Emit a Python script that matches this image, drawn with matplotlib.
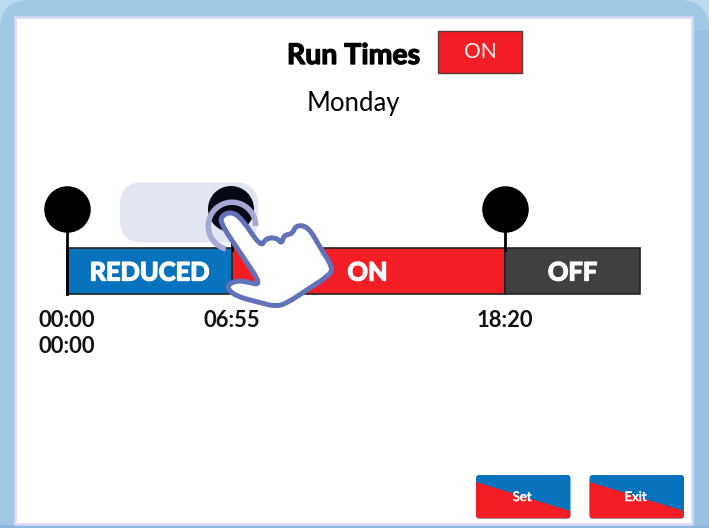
import matplotlib
matplotlib.use("Agg")
import matplotlib.pyplot as plt
import matplotlib.patheffects as pe
from matplotlib.path import Path
from matplotlib.patches import FancyBboxPatch, Rectangle, Circle, Polygon, Wedge, PathPatch

plt.rcParams['font.family'] = ['Lato', 'DejaVu Sans']

W, H = 709, 528
# data
segment_names = ["REDUCED", "ON", "OFF"]
segment_starts = [0, 415, 1100]       # minutes of the day
segment_ends = [415, 1100, 1440]
segment_colors = ["#0872BC", "#F21D25", "#404040"]
handle_minutes = [0, 415, 1100]
time_labels = ["00:00", "06:55", "18:20"]
title = "Run Times"
day = "Monday"
buttons = ["Set", "Exit"]

fig = plt.figure(figsize=(W/100, H/100), dpi=100)
fig.patch.set_facecolor("#BBDAEE")

def pixel_axes(z):
    a = fig.add_axes([0, 0, 1, 1], zorder=z)
    a.set_xlim(0, W); a.set_ylim(H, 0); a.axis("off")
    a.patch.set_alpha(0)
    return a

def heavy(w, c="white"):
    return [pe.withStroke(linewidth=w, foreground=c)]

bg = pixel_axes(0)
# outer frame
bg.add_patch(FancyBboxPatch((0, 0), W, H+60, boxstyle="round,pad=0,rounding_size=30",
                            fc="#9FC8E6", ec="none"))
bg.add_patch(Rectangle((692, 30), 17, H, fc="#98C3E4", ec="none"))
bg.add_patch(Rectangle((0, 525), W, 3, fc="#8DB8DD", ec="none"))
bg.add_patch(Rectangle((15, 17), 676.5, 507, fc="white", ec="#DAD8F4", lw=1.8))

# time axis: minutes to pixels
PX = 0.398
ax = fig.add_axes([0, 0, 1, 1], zorder=1)
ax.set_xlim(-67/PX, (W-67)/PX); ax.set_ylim(H, 0); ax.axis("off"); ax.patch.set_alpha(0)

for s, e, c, n in zip(segment_starts, segment_ends, segment_colors, segment_names):
    ax.barh(271, e-s, left=s, height=46, color=c, edgecolor="#222222", linewidth=1.2)
    tx = (s+e)/2
    if n == "ON":
        tx = 755
    if n == "REDUCED":
        tx = 207
    ax.text(tx, 273, n, color="white", fontsize=18.3, fontweight="bold", ha="center", va="center",
            path_effects=heavy(1.0))
ax.plot([segment_starts[0], segment_starts[0]], [248, 294], color="black", lw=2)

for m, l in zip(handle_minutes, time_labels):
    ax.plot([m, m], [210, 250], color="black", lw=2, zorder=3)
    ax.plot([m], [209], "o", color="black", ms=33.5, mew=0, zorder=3)
    ax.text(m, 320.5, l, color="#111111", fontsize=15.8, fontweight="bold", ha="center", va="center")
ax.text(0, 346.5, time_labels[0], color="#111111", fontsize=15.8, fontweight="bold", ha="center", va="center")

# overlay
top = pixel_axes(2)
top.text(353.5, 56, title, fontsize=20.5, fontweight="bold", color="black", ha="center", va="center",
         path_effects=heavy(0.9, "black"))
top.add_patch(Rectangle((438, 31), 84, 42, fc="#F21D25", ec="#5a3a3a", lw=1))
top.text(480, 52, "ON", fontsize=15, color="white", ha="center", va="center")
top.text(353.5, 104, day, fontsize=18.5, color="black", ha="center", va="center")

# buttons
for x0, lab in zip([476, 589.5], buttons):
    w, h = 94.5, 43.5
    box = FancyBboxPatch((x0, 475), w, h, boxstyle="round,pad=0,rounding_size=3", fc="#0872BC", ec="none")
    top.add_patch(box)
    tri = Polygon([(x0, 482), (x0+w, 511), (x0+w, 518.5), (x0, 518.5)], fc="#F21D25", ec="none")
    top.add_patch(tri)
    tri.set_clip_path(box)
    top.text(x0+w/2-1, 497, lab, fontsize=9.5, color="white", ha="center", va="center",
             path_effects=heavy(0.4))

# gesture: pill, hand
top.add_patch(FancyBboxPatch((120, 182.5), 138, 60, boxstyle="round,pad=0,rounding_size=22",
                             fc="#E1E6F2", ec="none"))
top.add_patch(Circle((231, 209), 23, fc="#060A14", ec="none"))
top.add_patch(Wedge((232, 226), 26.5, 105, 360, width=5.5, fc="#A5A9D6", ec="none"))

hand_zoom = [(365,165),(362,140),(392,124),(425,145),(483,232),(497,205),(530,203),(545,222),(552,195),(577,192),
             (588,165),(625,170),(660,232),(700,295),(685,318),(620,360),(565,397),(530,410),(480,398),(405,378),
             (378,350),(405,332),(440,335),(487,347),(425,255)]
pts = [(100+x/3, 170+y/3) for x, y in hand_zoom]
# smooth closed outline: each listed point is a control point of a quadratic segment
mid = lambda a, b: ((a[0]+b[0])/2, (a[1]+b[1])/2)
verts = [mid(pts[-1], pts[0])]
codes = [Path.MOVETO]
for i, p in enumerate(pts):
    verts += [p, mid(p, pts[(i+1) % len(pts)])]
    codes += [Path.CURVE3, Path.CURVE3]
verts.append(verts[0]); codes.append(Path.CLOSEPOLY)
top.add_patch(PathPatch(Path(verts, codes), fc="white", ec="#6272B8", lw=3.6, joinstyle="round"))

fig.savefig("out.png", dpi=100)
